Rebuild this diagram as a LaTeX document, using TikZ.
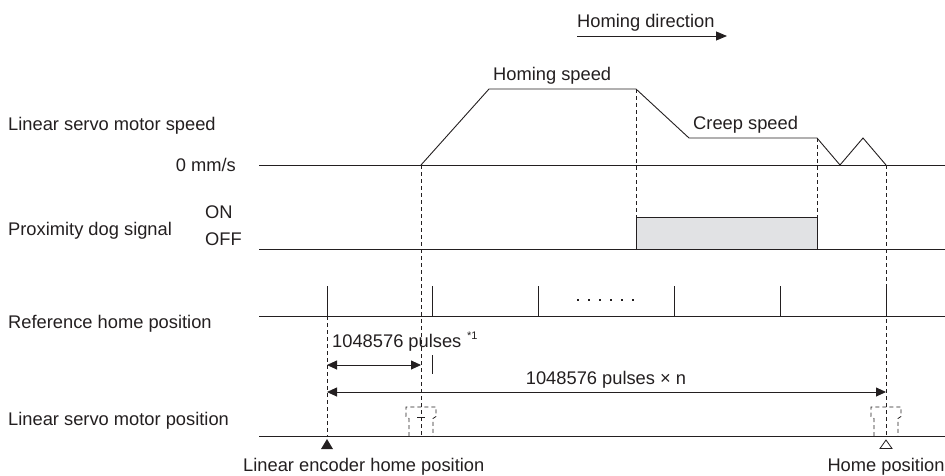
\documentclass[tikz,border=0pt]{standalone}
\usepackage{fontspec}
\setmainfont{Liberation Sans}
\usetikzlibrary{arrows.meta}
\definecolor{boxgray}{HTML}{E1E2E4}
\definecolor{ink}{HTML}{231F20}
\begin{document}
\begin{tikzpicture}[x=1pt,y=-1pt,
  lbl/.style={inner sep=0pt, font=\fontsize{18.3}{21}\selectfont, text=ink},
  ln/.style={line width=0.9pt, draw=ink},
  dsh/.style={line width=0.9pt, draw=ink, dash pattern=on 4pt off 3pt},
  tipr/.style={-{Triangle[length=11pt,width=9pt]}},
  dim/.style={{Triangle[length=10pt,width=9pt]}-{Triangle[length=10pt,width=9pt]}},
  bracket/.style={line width=0.8pt, draw=ink, dash pattern=on 4pt off 3pt}
]
\useasboundingbox (0,0) rectangle (945,475);

% labels
\node[lbl,anchor=base west] (lss) at (8,130) {Linear servo motor speed};
\node[lbl,anchor=base east] (zero) at (236,171) {0 mm/s};
\node[lbl,anchor=base west] (pds) at (8,235) {Proximity dog signal};
\node[lbl,anchor=base west] (on) at (205,218) {ON};
\node[lbl,anchor=base west] (off) at (205,245) {OFF};
\node[lbl,anchor=base west] (rhp) at (8,328) {Reference home position};
\node[lbl,anchor=base west] (lsp) at (8,425) {Linear servo motor position};
\node[lbl,anchor=base west] (hd) at (577,27) {Homing direction};
\node[lbl,anchor=base west] (hs) at (493,80) {Homing speed};
\node[lbl,anchor=base west] (cs) at (693,129) {Creep speed};
\node[lbl,anchor=base west] (p1) at (332,347) {1048576 pulses};
\node[inner sep=0pt, anchor=base west, font=\fontsize{11}{12}\selectfont, text=ink] (s1) at (467,339) {*1};
\node[lbl,anchor=base] (pn) at (606,384) {1048576 pulses × n};
\node[lbl,anchor=base west] (leh) at (243,471) {Linear encoder home position};
\node[lbl,anchor=base] (hp) at (886,471) {Home position};

% homing direction arrow
\coordinate (hda) at (577,36);
\coordinate (hdb) at (727,36);
\draw[ln,tipr] (hda) -- (hdb);

% speed graph
\coordinate (sa) at (259,165);
\coordinate (sz) at (945,165);
\coordinate (v1) at (421,165);
\coordinate (v2) at (489,89);
\coordinate (v3) at (636,89);
\coordinate (v4) at (689,138);
\coordinate (v5) at (817,138);
\coordinate (v6) at (840,165);
\coordinate (v7) at (863,138);
\coordinate (v8) at (886,165);
\draw[ln] (sa) -- (sz);
\draw[ln,line join=miter] (v1) -- (v2) -- (v3) -- (v4) -- (v5) -- (v6) -- (v7) -- (v8);

% proximity dog
\coordinate (da) at (259,249);
\coordinate (dz) at (945,249);
\coordinate (dogA) at (636,217);
\coordinate (dogB) at (817,249);
\draw[ln,fill=boxgray] (dogA) rectangle (dogB);
\draw[ln] (da) -- (dz);

% reference home position
\coordinate (ra) at (259,316);
\coordinate (rz) at (945,316);
\draw[ln] (ra) -- (rz);
\foreach \x in {327,432,538,674,780,886}{
  \draw[ln] (\x,286) -- (\x,316);
}
\foreach \x in {578,589,600,611,622,633}{
  \fill[ink] (\x-1.4,298.6) rectangle (\x+1.4,301.4);
}

% position axis
\coordinate (pa) at (259,436);
\coordinate (pz) at (945,436);
\draw[ln] (pa) -- (pz);

% dashed verticals
\coordinate (b421) at (421,436);
\coordinate (b886) at (886,436);
\coordinate (b327) at (327,436);
\coordinate (t327) at (327,316);
\coordinate (d636) at (636,249);
\coordinate (d817) at (817,249);
\draw[dsh] (v1) -- (b421);
\draw[dsh] (v8) -- (b886);
\draw[dsh] (t327) -- (b327);
\draw[dsh] (v3) -- (d636);
\draw[dsh] (v5) -- (d817);

% dimension arrows
\coordinate (m1a) at (327,365);
\coordinate (m1b) at (421,365);
\coordinate (m2a) at (327,392);
\coordinate (m2b) at (886,392);
\draw[ln,dim] (m1a) -- (m1b);
\draw[ln] (432,355) -- (432,374);
\draw[ln,dim] (m2a) -- (m2b);

% home markers
\fill[ink] (327,439) -- (333,449) -- (321,449) -- cycle;
\draw[line width=0.8pt, draw=ink, fill=white] (886,440) -- (892,448.5) -- (880,448.5) -- cycle;

% slider brackets
\foreach \c in {421,886}{
  \draw[bracket] (\c-12,436) -- (\c-12,418.5) -- (\c-15,416.5) -- (\c-15,407) -- (\c+15,407) -- (\c+15,416.5) -- (\c+12,418.5) -- (\c+12,436);
}
\draw[line width=0.8pt, draw=ink] (417,417.5) -- (425,417.5);
\end{tikzpicture}
\end{document}
